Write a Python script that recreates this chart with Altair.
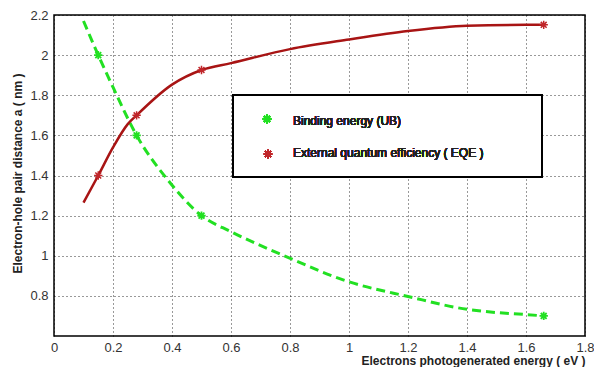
import altair as alt
import pandas as pd

# Binding energy (UB) curve
ub_x = [0.10, 0.15, 0.20, 0.28, 0.39, 0.50, 0.60, 0.78, 1.00, 1.20, 1.40, 1.50, 1.60, 1.66]
ub_y = [2.17, 2.00, 1.84, 1.60, 1.37, 1.20, 1.12, 1.00, 0.87, 0.797, 0.733, 0.717, 0.707, 0.70]
# External quantum efficiency (EQE) curve
eqe_x = [0.10, 0.15, 0.20, 0.25, 0.28, 0.40, 0.50, 0.60, 0.80, 1.00, 1.20, 1.40, 1.60, 1.66]
eqe_y = [1.265, 1.40, 1.54, 1.656, 1.70, 1.853, 1.926, 1.96, 2.03, 2.078, 2.12, 2.146, 2.151, 2.151]
# marker positions
mk_x = [0.15, 0.28, 0.50, 1.66]
ub_mk = [2.00, 1.60, 1.20, 0.70]
eqe_mk = [1.40, 1.70, 1.926, 2.151]

x_ticks = [0, 0.2, 0.4, 0.6, 0.8, 1.0, 1.2, 1.4, 1.6, 1.8]
y_ticks = [0.8, 1.0, 1.2, 1.4, 1.6, 1.8, 2.0, 2.2]

labels = ["Binding energy (UB)", "External quantum efficiency ( EQE )"]
colors = ["#22e022", "#a81414"]
mk_colors = ["#22e022", "#c0262a"]

ASTER = "M-1,0L1,0M0,-1L0,1M-0.7,-0.7L0.7,0.7M-0.7,0.7L0.7,-0.7"
FONT = "Liberation Sans"

ub_df = pd.DataFrame({"x": ub_x, "y": ub_y})
eqe_df = pd.DataFrame({"x": eqe_x, "y": eqe_y})
ubm_df = pd.DataFrame({"x": mk_x, "y": ub_mk})
eqem_df = pd.DataFrame({"x": mk_x, "y": eqe_mk})

W, H = 531, 321

xs = alt.Scale(domain=[0, 1.8], nice=False, zero=False)
ys = alt.Scale(domain=[0.6, 2.2], nice=False, zero=False)

X = alt.X("x:Q", scale=xs, axis=alt.Axis(
    values=x_ticks, format="~g", grid=True, gridColor="#000", gridDash=[1, 3],
    gridWidth=1, gridOpacity=0.8, ticks=False, domain=False, labelFont=FONT,
    labelFontSize=13, labelColor="#333", labelPadding=5, labelFlush=False,
    title="Electrons photogenerated energy ( eV )", titleFont=FONT,
    titleFontSize=12, titleFontWeight="bold", titleColor="#222",
    titleAnchor="end", titleAlign="right", titleX=W, titleY=28,
    titleBaseline="alphabetic"))
Y = alt.Y("y:Q", scale=ys, axis=alt.Axis(
    values=y_ticks, format="~g", grid=True, gridColor="#000", gridDash=[1, 3],
    gridWidth=1, gridOpacity=0.8, ticks=False, domain=False, labelFont=FONT,
    labelFontSize=13, labelColor="#333", labelPadding=6,
    title="Electron-hole pair distance  a ( nm )", titleFont=FONT,
    titleFontSize=12, titleFontWeight="bold", titleColor="#222",
    titleX=-37, titleY=158, titleAnchor="middle", titleAngle=270,
    titleBaseline="middle"))

ub_line = alt.Chart(ub_df).mark_line(
    color=colors[0], strokeWidth=3, strokeDash=[9, 5], interpolate="monotone"
).encode(x=X, y=Y)
eqe_line = alt.Chart(eqe_df).mark_line(
    color=colors[1], strokeWidth=2.5, interpolate="monotone"
).encode(x=X, y=Y)
ub_pts = alt.Chart(ubm_df).mark_point(
    shape=ASTER, size=70, strokeWidth=1.8, color=mk_colors[0], opacity=1
).encode(x="x:Q", y="y:Q")
eqe_pts = alt.Chart(eqem_df).mark_point(
    shape=ASTER, size=70, strokeWidth=1.5, color=mk_colors[1], opacity=1
).encode(x="x:Q", y="y:Q")

leg_box = alt.Chart(ub_df).mark_rect(
    fill="white", stroke="black", strokeWidth=2
).encode(x=alt.value(179), x2=alt.value(488), y=alt.value(80), y2=alt.value(162))
leg_sym1 = alt.Chart(ub_df).mark_point(
    shape=ASTER, size=70, strokeWidth=1.8, color=mk_colors[0], opacity=1
).encode(x=alt.value(213), y=alt.value(104))
leg_sym2 = alt.Chart(ub_df).mark_point(
    shape=ASTER, size=70, strokeWidth=1.5, color=mk_colors[1], opacity=1
).encode(x=alt.value(214), y=alt.value(139))
leg_txt1 = alt.Chart(ub_df).mark_text(
    text=labels[0], font=FONT, fontSize=12, align="left", baseline="middle", color="#222"
).encode(x=alt.value(239), y=alt.value(106))
leg_txt2 = alt.Chart(ub_df).mark_text(
    text=labels[1], font=FONT, fontSize=12, align="left", baseline="middle", color="#222"
).encode(x=alt.value(239), y=alt.value(138))

chart = alt.layer(
    ub_line, eqe_line, ub_pts, eqe_pts,
    leg_box, leg_sym1, leg_sym2, leg_txt1, leg_txt2
).properties(
    width=W, height=H,
    autosize=alt.AutoSizeParams(type="none"),
    padding={"left": 46, "top": 7, "right": 9, "bottom": 31},
    background="white",
).configure_view(stroke="black", strokeWidth=1.5)

chart.save("out.html", embed_options={"renderer": "svg", "actions": False})
